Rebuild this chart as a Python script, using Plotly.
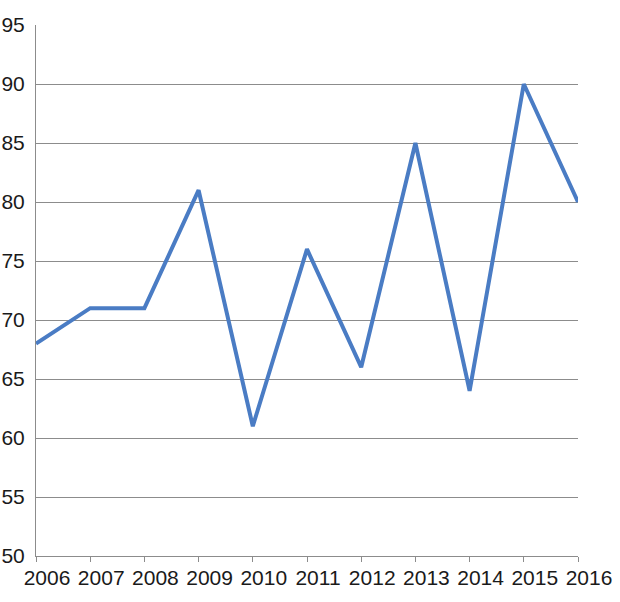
import plotly.graph_objs as go

years = ["2006", "2007", "2008", "2009", "2010", "2011",
         "2012", "2013", "2014", "2015", "2016"]
values = [68, 71, 71, 81, 61, 76, 66, 85, 64, 90, 80]

line_color = "#4a7cc4"
grid_color = "#8c8c8c"
font = dict(family="Liberation Sans, Arial", size=21, color="#1a1a1a")

trace = go.Scatter(
    x=years,
    y=values,
    mode="lines",
    line=dict(color=line_color, width=4),
    showlegend=False,
)

fig = go.Figure(
    data=[trace],
    layout=go.Layout(
        width=620,
        height=602,
        margin=dict(l=36, r=42, t=25, b=46),
        paper_bgcolor="white",
        plot_bgcolor="white",
        font=font,
        xaxis=dict(
            type="category",
            range=[0, len(years) - 1],
            automargin=False,
            showgrid=False,
            showline=True,
            linecolor=grid_color,
            linewidth=1,
            ticks="outside",
            ticklen=5,
            tickcolor=grid_color,
            ticklabelshift=11,
            ticklabelstandoff=-2,
            tickfont=font,
        ),
        yaxis=dict(
            range=[50, 95],
            dtick=5,
            automargin=False,
            showgrid=True,
            gridcolor=grid_color,
            gridwidth=1,
            showline=True,
            linecolor=grid_color,
            linewidth=1,
            zeroline=False,
            ticks="",
            ticklabelstandoff=6,
            tickfont=font,
        ),
    ),
)

# drop the default page margin so the figure sits at the window corner
fig.write_html(
    "out.html",
    config={"displayModeBar": False},
    post_script="document.body.style.margin='0';",
)
